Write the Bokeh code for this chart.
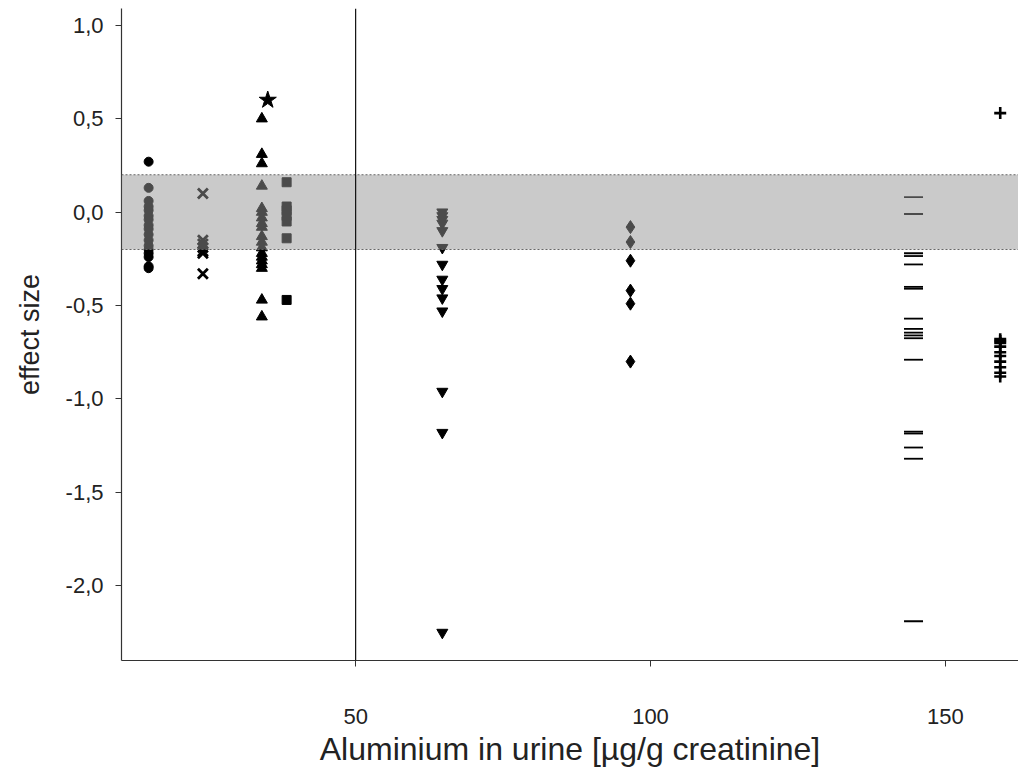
from bokeh.plotting import figure
from bokeh.models import Span, BoxAnnotation, FixedTicker, CustomJSTickFormatter, Range1d
from bokeh.embed import file_html
from bokeh.resources import INLINE

# Data (x: aluminium in urine, y: effect size)
circle_x = 14.9
circle_y = [0.27, 0.13, 0.06, 0.03, 0.01, -0.02, -0.04, -0.07, -0.09, -0.12, -0.15, -0.18, -0.20, -0.22, -0.24, -0.29, -0.30]
cross_x = 24.1
cross_y = [0.10, -0.15, -0.17, -0.19, -0.21, -0.22, -0.33]
tri_x = 34.1
tri_y = [0.50, 0.31, 0.26, 0.14, 0.02, 0.0, -0.03, -0.06, -0.08, -0.13, -0.16, -0.19, -0.22, -0.24, -0.26, -0.28, -0.30, -0.47, -0.56]
star_x = 35.1
star_y = [0.60]
square_x = 38.3
square_y = [0.16, 0.03, 0.01, -0.02, -0.05, -0.14, -0.47]
down_x = 64.7
down_y = [0.0, -0.02, -0.04, -0.06, -0.10, -0.19, -0.28, -0.36, -0.41, -0.46, -0.53, -0.96, -1.18, -2.25]
diamond_x = 96.6
diamond_y = [-0.08, -0.16, -0.26, -0.42, -0.49, -0.80]
dash_x = 144.6
dash_y = [0.08, -0.01, -0.22, -0.235, -0.28, -0.40, -0.41, -0.57, -0.625, -0.645, -0.66, -0.675, -0.79, -1.175, -1.185, -1.26, -1.32, -2.19]
plus_x = 159.3
plus_y = [0.53, -0.68, -0.69, -0.70, -0.72, -0.75, -0.77, -0.80, -0.83, -0.86, -0.88]

x_ticks = [50, 100, 150]
y_ticks = [1.0, 0.5, 0.0, -0.5, -1.0, -1.5, -2.0]
band_low, band_high = -0.2, 0.2
threshold_x = 50

p = figure(width=1018, height=769, output_backend="svg", toolbar_location=None,
           x_range=Range1d(10.3, 162.4), y_range=Range1d(-2.40, 1.09),
           min_border_left=121, min_border_right=0, min_border_top=8, min_border_bottom=106)
p.outline_line_color = None
p.grid.visible = False
p.background_fill_color = "white"

FONT = "Liberation Sans"
for ax in (p.xaxis[0], p.yaxis[0]):
    ax.axis_line_color = "#333333"
    ax.axis_line_width = 1.2
    ax.major_tick_in = 0
    ax.major_tick_out = 6
    ax.minor_tick_line_color = None
    ax.major_tick_line_color = "#333333"
    ax.major_label_text_font = FONT
    ax.major_label_text_font_size = "22px"
    ax.major_label_text_color = "#222222"
    ax.axis_label_text_font = FONT
    ax.axis_label_text_font_style = "normal"
    ax.axis_label_text_color = "#222222"

p.xaxis.axis_label_text_font_size = "32px"
p.yaxis.axis_label_text_font_size = "27px"
p.xaxis.ticker = FixedTicker(ticks=x_ticks)
p.yaxis.ticker = FixedTicker(ticks=y_ticks)
p.yaxis.formatter = CustomJSTickFormatter(code="return tick.toFixed(1).replace('.', ',');")
p.xaxis.axis_label = "Aluminium in urine [µg/g creatinine]"
p.yaxis.axis_label = "effect size"
p.xaxis.major_label_standoff = 42
p.xaxis.axis_label_standoff = 4
p.yaxis.major_label_standoff = 12
p.yaxis.axis_label_standoff = 18

K = "black"
p.scatter([circle_x] * len(circle_y), circle_y, marker="circle", size=9, color=K)
p.scatter([cross_x] * len(cross_y), cross_y, marker="x", size=14, line_color=K, line_width=2.8)
p.scatter([tri_x] * len(tri_y), tri_y, marker="triangle", size=11, color=K)
p.scatter([star_x] * len(star_y), star_y, marker="star", size=18, color=K)
p.scatter([square_x] * len(square_y), square_y, marker="square", size=9, color=K)
p.scatter([down_x] * len(down_y), down_y, marker="inverted_triangle", size=11, color=K)
p.scatter([diamond_x] * len(diamond_y), diamond_y, marker="diamond", size=13, color=K)
p.scatter([dash_x] * len(dash_y), dash_y, marker="dash", size=19, line_color=K, line_width=1.8)
p.scatter([plus_x] * len(plus_y), plus_y, marker="cross", size=12, line_color=K, line_width=2.6)

band = BoxAnnotation(bottom=band_low, top=band_high, fill_color=(150, 150, 150), fill_alpha=0.5,
                     line_color=None, level="overlay")
p.add_layout(band)
for yv in (band_low, band_high):
    p.add_layout(Span(location=yv, dimension="width", line_color="#666666", line_width=1.2,
                      line_dash="2 2", level="overlay"))
p.add_layout(Span(location=threshold_x, dimension="height", line_color="#111111", line_width=1.2,
                  level="overlay"))

open("out.html", "w").write(file_html(p, INLINE))
